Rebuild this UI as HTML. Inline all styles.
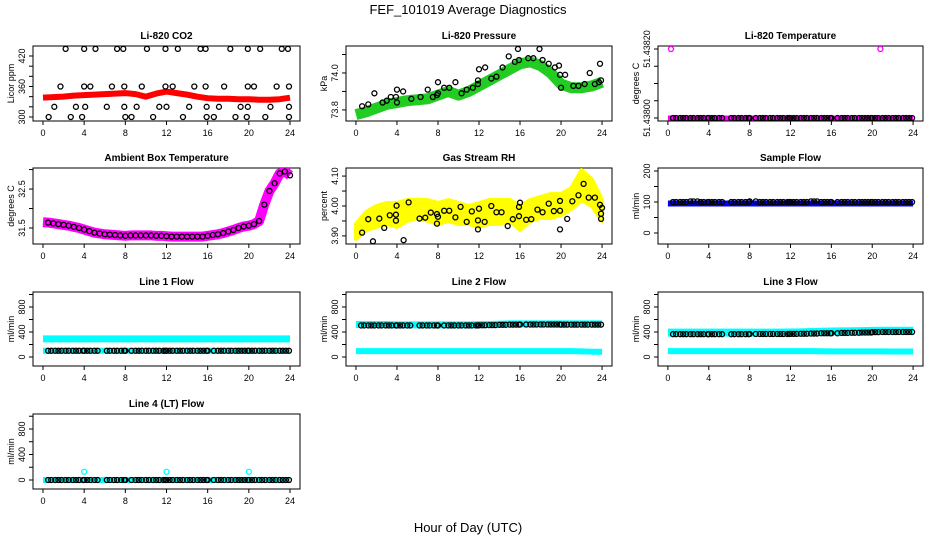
<!DOCTYPE html>
<html><head><meta charset="utf-8"><style>
html,body{margin:0;padding:0;background:#fff;}
svg{display:block;font-family:"Liberation Sans",Arial,sans-serif;}
</style></head><body>
<svg id="fig" width="936" height="540" viewBox="0 0 936 540">
<text x="468" y="14" font-size="13" text-anchor="middle">FEF_101019  Average Diagnostics</text>
<text x="468" y="532" font-size="13" text-anchor="middle">Hour of Day (UTC)</text>
</svg>
<script>
// ---------- data ----------
const xTicks = [0,4,8,12,16,20,24];
const hourly = [0,1,2,3,4,5,6,7,8,9,10,11,12,13,14,15,16,17,18,19,20,21,22,23,24];
const halfHours = [0,0.5,1,1.5,2,2.5,3,3.5,4,4.5,5,5.5,6,6.5,7,7.5,8,8.5,9,9.5,10,10.5,11,11.5,12,12.5,13,13.5,14,14.5,15,15.5,16,16.5,17,17.5,18,18.5,19,19.5,20,20.5,21,21.5,22,22.5,23,23.5,24];
const sampleHours = [0.5,0.8,1.2,1.5,1.8,2.2,2.5,2.9,3.2,3.5,3.9,4.0,4.3,4.6,5.0,5.3,6.2,6.5,6.9,7.2,7.6,7.9,8.0,8.6,9.0,9.3,9.6,10.0,10.3,10.7,11.0,11.3,11.7,11.9,12.0,12.3,12.6,13.0,13.3,13.6,14.0,14.3,14.6,15.0,15.3,15.6,15.9,16.0,16.6,17.0,17.3,17.6,18.0,18.3,18.7,19.0,19.3,19.6,19.9,20.0,20.3,20.6,21.0,21.3,21.6,22.0,22.3,22.6,23.0,23.3,23.6,23.9];

// CO2
const co2Band = [338,339,340,342,343,344,345,346,347,345,340,346,350,347,344,340,337,336,336,335,335,334,334,335,338];
const co2H434 = [2.2,4.0,5.1,7.2,7.8,10.1,11.9,13.1,15.3,15.8,18.2,19.9,21.1,23.2,23.8];
const co2H360 = [1.7,4.0,4.6,6.7,7.9,9.6,11.9,12.6,14.7,15.8,17.6,19.9,20.5,22.7,23.9];
const co2H320 = [1.1,3.2,4.1,6.2,7.9,9.1,11.3,12.0,14.2,15.9,17.1,19.2,19.9,22.1,23.9];
const co2H300 = [0.55,2.7,3.8,8.0,8.6,10.7,13.6,15.9,16.6,18.7,19.8,21.6,23.9];
const co2Levels = [434,360,320,300];

// Pressure
const presBand = [73.775,73.79,73.81,73.83,73.84,73.85,73.855,73.86,73.88,73.9,73.88,73.9,73.93,73.96,73.99,74.02,74.05,74.06,74.04,74.0,73.94,73.92,73.92,73.93,73.95];
const presPtH = [0.6,1.2,1.8,2.6,3.0,3.4,3.9,4.0,4.0,4.6,5.4,6.3,7.0,7.5,7.9,8.0,8.0,8.6,9.1,9.7,10.3,10.8,11.4,11.9,11.9,12.0,12.6,13.2,13.7,14.3,14.9,15.5,15.8,15.9,16.8,17.3,17.9,18.2,18.8,19.4,19.8,19.9,20.0,20.4,21.2,21.7,22.3,22.8,23.3,23.7,23.8,23.9];
const presPtV = [73.82,73.83,73.89,73.84,73.85,73.87,73.87,73.84,73.91,73.9,73.86,73.87,73.91,73.87,73.88,73.95,73.89,73.92,73.92,73.95,73.89,73.91,73.92,73.96,73.94,74.02,74.03,73.97,73.98,74.03,74.09,74.06,74.13,74.07,74.08,74.08,74.13,74.07,74.05,74.03,74.04,73.99,73.92,73.99,73.93,73.93,73.94,74.0,73.94,73.95,74.05,73.96];

// Li-820 temperature
const tempBand = [51.438,51.438,51.438,51.438,51.438,51.438,51.438,51.438,51.438,51.438,51.438,51.438,51.438,51.438,51.438,51.438,51.438,51.438,51.438,51.438,51.438,51.438,51.438,51.438,51.438];
const tempOutH = [0.3,20.8];
const tempOutV = [51.4382,51.4382];

// Ambient
const ambVals = [31.65,31.64,31.62,31.6,31.58,31.56,31.53,31.5,31.46,31.42,31.38,31.36,31.34,31.33,31.32,31.31,31.3,31.31,31.31,31.31,31.31,31.31,31.3,31.3,31.29,31.28,31.28,31.28,31.28,31.28,31.28,31.28,31.3,31.32,31.34,31.37,31.41,31.45,31.5,31.54,31.56,31.6,31.68,32.1,32.45,32.65,32.9,32.95,32.85];

// RH
const rhLow  = [3.89,3.92,3.93,3.94,3.93,3.95,3.96,3.95,3.94,3.95,3.94,3.94,3.93,3.94,3.94,3.95,3.92,3.95,3.96,3.96,3.97,3.99,4.02,4.0,3.95];
const rhHigh = [3.94,3.98,4.0,4.01,4.01,4.02,4.02,4.02,4.01,4.02,4.01,4.0,4.01,4.02,4.02,4.02,4.0,4.02,4.03,4.04,4.04,4.06,4.12,4.09,4.02];
const rhPtH = [0.6,1.66,1.2,2.28,2.76,3.3,3.9,3.96,3.9,4.65,5.14,6.2,6.76,7.3,7.9,7.9,8.0,8.6,9.1,9.7,10.2,10.8,11.3,11.9,12.0,11.9,12.55,13.2,13.7,14.2,14.8,15.3,15.9,15.9,16.0,16.6,17.1,17.7,18.2,18.8,19.3,19.9,19.9,19.9,20.6,21.1,21.7,22.2,22.7,23.3,23.8,24.0,23.9,23.9];
const rhPtV = [3.911,3.882,3.956,3.958,3.927,3.969,3.971,4.001,3.951,3.886,4.012,3.958,3.961,3.978,3.973,3.941,3.964,3.984,3.984,3.962,3.997,3.947,3.982,3.952,3.991,3.922,3.947,4.0,3.979,3.979,3.933,3.956,3.966,3.997,4.011,3.954,3.956,3.988,3.979,4.008,3.983,4.017,3.984,3.922,3.957,4.016,4.036,4.074,4.028,4.028,4.004,3.994,3.974,3.957];

// Flows (hourly)
const sfBand  = [95,95,95,95,95,95,95,95,95,95,95,95,95,95,95,95,95,95,95,95,95,95,95,95,95];
const sfPts   = [100,100,102,100,100,100,100,100,102,100,100,100,100,100,102,100,100,100,100,100,100,100,100,100,100];
const l1High  = [290,290,290,290,290,290,290,290,290,290,290,290,290,290,290,290,290,290,290,290,290,290,290,290,290];
const l1Low   = [100,100,100,100,100,100,100,100,100,100,100,100,100,100,100,100,100,100,100,100,100,100,100,100,100];
const l1Pts   = [100,100,100,100,100,100,100,100,100,100,100,100,100,100,100,100,100,100,100,100,100,100,100,100,100];
const l2High  = [520,520,520,520,515,515,515,515,515,515,515,515,518,520,525,530,530,530,530,530,530,530,530,530,530];
const l2Low   = [95,95,95,95,95,95,95,95,95,95,95,95,95,95,95,95,95,95,95,95,95,95,90,85,85];
const l2Pts   = [505,505,505,505,505,505,505,505,505,505,505,505,508,510,515,518,520,520,520,520,518,518,518,518,518];
const l3High  = [390,390,390,390,390,390,390,390,390,390,390,390,392,395,400,405,408,410,412,415,418,420,420,420,420];
const l3Low   = [95,95,95,95,95,95,95,95,95,95,95,95,95,95,95,92,90,90,90,90,90,90,88,88,88];
const l3Pts   = [365,365,365,365,365,365,365,365,368,368,368,368,370,372,375,380,380,385,388,392,398,400,400,400,400];
const l4Band  = [0,0,0,0,0,0,0,0,0,0,0,0,0,0,0,0,0,0,0,0,0,0,0,0,0];
const l4Pts   = [0,0,0,0,0,0,0,0,0,0,0,0,0,0,0,0,0,0,0,0,0,0,0,0,0];
const l4OutH  = [4,12,20];
const l4OutV  = [130,130,130];

// ---------- drawing ----------
const NS = "http://www.w3.org/2000/svg";
const svg = document.getElementById('fig');
const cols = [[33,300],[346,612],[658,923]];
const rows = [[46,121],[168,244],[292,366],[414,489]];
const XMIN = -0.97, XMAX = 24.97;
function mk(tag, attrs, parent){const e=document.createElementNS(NS,tag);for(const k in attrs)e.setAttribute(k,attrs[k]);(parent||svg).appendChild(e);return e;}

function panel(c, r, title, ylab, ymin, ymax, yticks, ylabels, name){
  const [x0,x1]=cols[c],[y0,y1]=rows[r];
  const g = mk('g',{});
  
  
  const sx = h => x0 + (h-XMIN)/(XMAX-XMIN)*(x1-x0);
  const sy = v => y1 - (v-ymin)/(ymax-ymin)*(y1-y0);
  const t = mk('text',{x:(x0+x1)/2,y:y0-7,'font-size':10,'font-weight':'bold','text-anchor':'middle'},g);
  t.textContent = title;
  
  
  const box = mk('rect',{x:x0,y:y0,width:x1-x0,height:y1-y0,fill:'none',stroke:'#000','stroke-width':1},g);
  
  
  const xa = mk('g',{},g);
  
  
  mk('line',{x1:sx(0),x2:sx(24),y1:y1,y2:y1,stroke:'#000'},xa);
  xTicks.forEach(h=>{
    mk('line',{x1:sx(h),x2:sx(h),y1:y1,y2:y1+4,stroke:'#000'},xa);
    const tl = mk('text',{x:sx(h),y:y1+15,'font-size':9,'text-anchor':'middle'},xa);
    tl.textContent = h;
  });
  const ya = mk('g',{},g);
  
  
  mk('line',{x1:x0,x2:x0,y1:sy(yticks[0]),y2:sy(yticks[yticks.length-1]),stroke:'#000'},ya);
  yticks.forEach(v=>mk('line',{x1:x0-4,x2:x0,y1:sy(v),y2:sy(v),stroke:'#000'},ya));
  ylabels.forEach(([v,s])=>{
    const tl = mk('text',{x:0,y:0,'font-size':9,'text-anchor':'middle',transform:`translate(${x0-8},${sy(v)}) rotate(-90)`},ya);
    tl.textContent = s;
  });
  const yt = mk('text',{x:0,y:0,'font-size':9,'text-anchor':'middle',transform:`translate(${x0-19},${(y0+y1)/2}) rotate(-90)`},g);
  yt.textContent = ylab;
  
  
  const clip = 'clip'+c+r;
  const cp = mk('clipPath',{id:clip},g); mk('rect',{x:x0,y:y0,width:x1-x0,height:y1-y0},cp);
  const data = mk('g',{'clip-path':`url(#${clip})`},g);
  return {sx,sy,g:data};
}
function band(p, hs, vs, color, w, nm){
  const pl = mk('polyline',{points:hs.map((h,i)=>p.sx(h)+','+p.sy(vs[i])).join(' '),fill:'none',stroke:color,'stroke-width':w,'stroke-linejoin':'round','stroke-linecap':'butt'},p.g);
  
  
}
function pts(p, hs, vs, color, nm){
  const g = mk('g',{},p.g);
  
  
  hs.forEach((h,i)=>mk('circle',{cx:p.sx(h),cy:p.sy(vs[i]),r:2.5,fill:'none',stroke:color,'stroke-width':1.3},g));
}
function stepVals(arr){return sampleHours.map(h=>arr[Math.floor(h)]);}

// 1 CO2
let p = panel(0,0,'Li-820 CO2','Licor ppm',292.1,439.7,[300,320,340,360,380,400,420],[[300,'300'],[360,'360'],[420,'420']],'co2');
band(p,hourly,co2Band,'#ff0000',6,'co2-band');
[co2H434,co2H360,co2H320,co2H300].forEach((hs,k)=>pts(p,hs,hs.map(()=>co2Levels[k]),'#000','co2-points-'+co2Levels[k]));

// 2 Pressure
p = panel(1,0,'Li-820 Pressure','kPa',73.74,74.146,[73.8,73.9,74.0,74.1],[[73.8,'73.8'],[74.0,'74.0']],'pressure');
band(p,hourly,presBand,'#22cc22',11,'pressure-band');
pts(p,presPtH,presPtV,'#000','pressure-points');

// 3 Temp
p = panel(2,0,'Li-820 Temperature','degrees C',51.4379913,51.4382087,[51.438,51.43805,51.4381,51.43815,51.4382],[[51.438,'51.43800'],[51.4382,'51.43820']],'li820-temp');
band(p,hourly,tempBand,'#ff00ff',5,'temp-band');
pts(p,sampleHours,stepVals(tempBand),'#000','temp-points');
pts(p,tempOutH,tempOutV,'#ff00ff','temp-outliers');

// 4 Ambient
p = panel(0,1,'Ambient Box Temperature','degrees C',31.09,33.04,[31.5,32.0,32.5,33.0],[[31.5,'31.5'],[32.5,'32.5']],'ambient');
band(p,halfHours,ambVals,'#ff00ff',10,'ambient-band');
pts(p,halfHours.slice(1),ambVals.slice(1),'#000','ambient-points');

// 5 RH
p = panel(1,1,'Gas Stream RH','percent',3.873,4.127,[3.90,3.95,4.00,4.05,4.10],[[3.90,'3.90'],[4.00,'4.00'],[4.10,'4.10']],'rh');
{const poly = mk('polygon',{points:hourly.map((h,i)=>p.sx(h)+','+p.sy(rhHigh[i])).concat(hourly.slice().reverse().map((h,j)=>p.sx(h)+','+p.sy(rhLow[24-j]))).join(' '),fill:'#ffff00',stroke:'#ffff00','stroke-width':4,'stroke-linejoin':'round'},p.g);

}
pts(p,rhPtH,rhPtV,'#000','rh-points');

// 6 Sample flow
p = panel(2,1,'Sample Flow','ml/min',-35.5,209.7,[0,50,100,150,200],[[0,'0'],[100,'100'],[200,'200']],'sample-flow');
band(p,hourly,sfBand,'#0000ff',6,'sample-flow-band');
pts(p,sampleHours,stepVals(sfPts),'#000','sample-flow-points');

// Flow panels
const fT=[0,200,400,600,800,1000], fL=[[0,'0'],[400,'400'],[800,'800']];
p = panel(0,2,'Line 1 Flow','ml/min',-144,1040,fT,fL,'line1-flow');
band(p,hourly,l1High,'#00ffff',7,'line1-high-band');
band(p,hourly,l1Low,'#00ffff',6,'line1-low-band');
pts(p,sampleHours,stepVals(l1Pts),'#000','line1-points');

p = panel(1,2,'Line 2 Flow','ml/min',-144,1040,fT,fL,'line2-flow');
band(p,hourly,l2High,'#00ffff',7,'line2-high-band');
band(p,hourly,l2Low,'#00ffff',6,'line2-low-band');
pts(p,sampleHours,stepVals(l2Pts),'#000','line2-points');

p = panel(2,2,'Line 3 Flow','ml/min',-144,1040,fT,fL,'line3-flow');
band(p,hourly,l3High,'#00ffff',8,'line3-high-band');
band(p,hourly,l3Low,'#00ffff',6,'line3-low-band');
pts(p,sampleHours,stepVals(l3Pts),'#000','line3-points');

p = panel(0,3,'Line 4 (LT) Flow','ml/min',-141,1035,fT,fL,'line4-flow');
band(p,hourly,l4Band,'#00ffff',6,'line4-band');
pts(p,sampleHours,stepVals(l4Pts),'#000','line4-points');
pts(p,l4OutH,l4OutV,'#00ffff','line4-outliers');
</script>
</body></html>
